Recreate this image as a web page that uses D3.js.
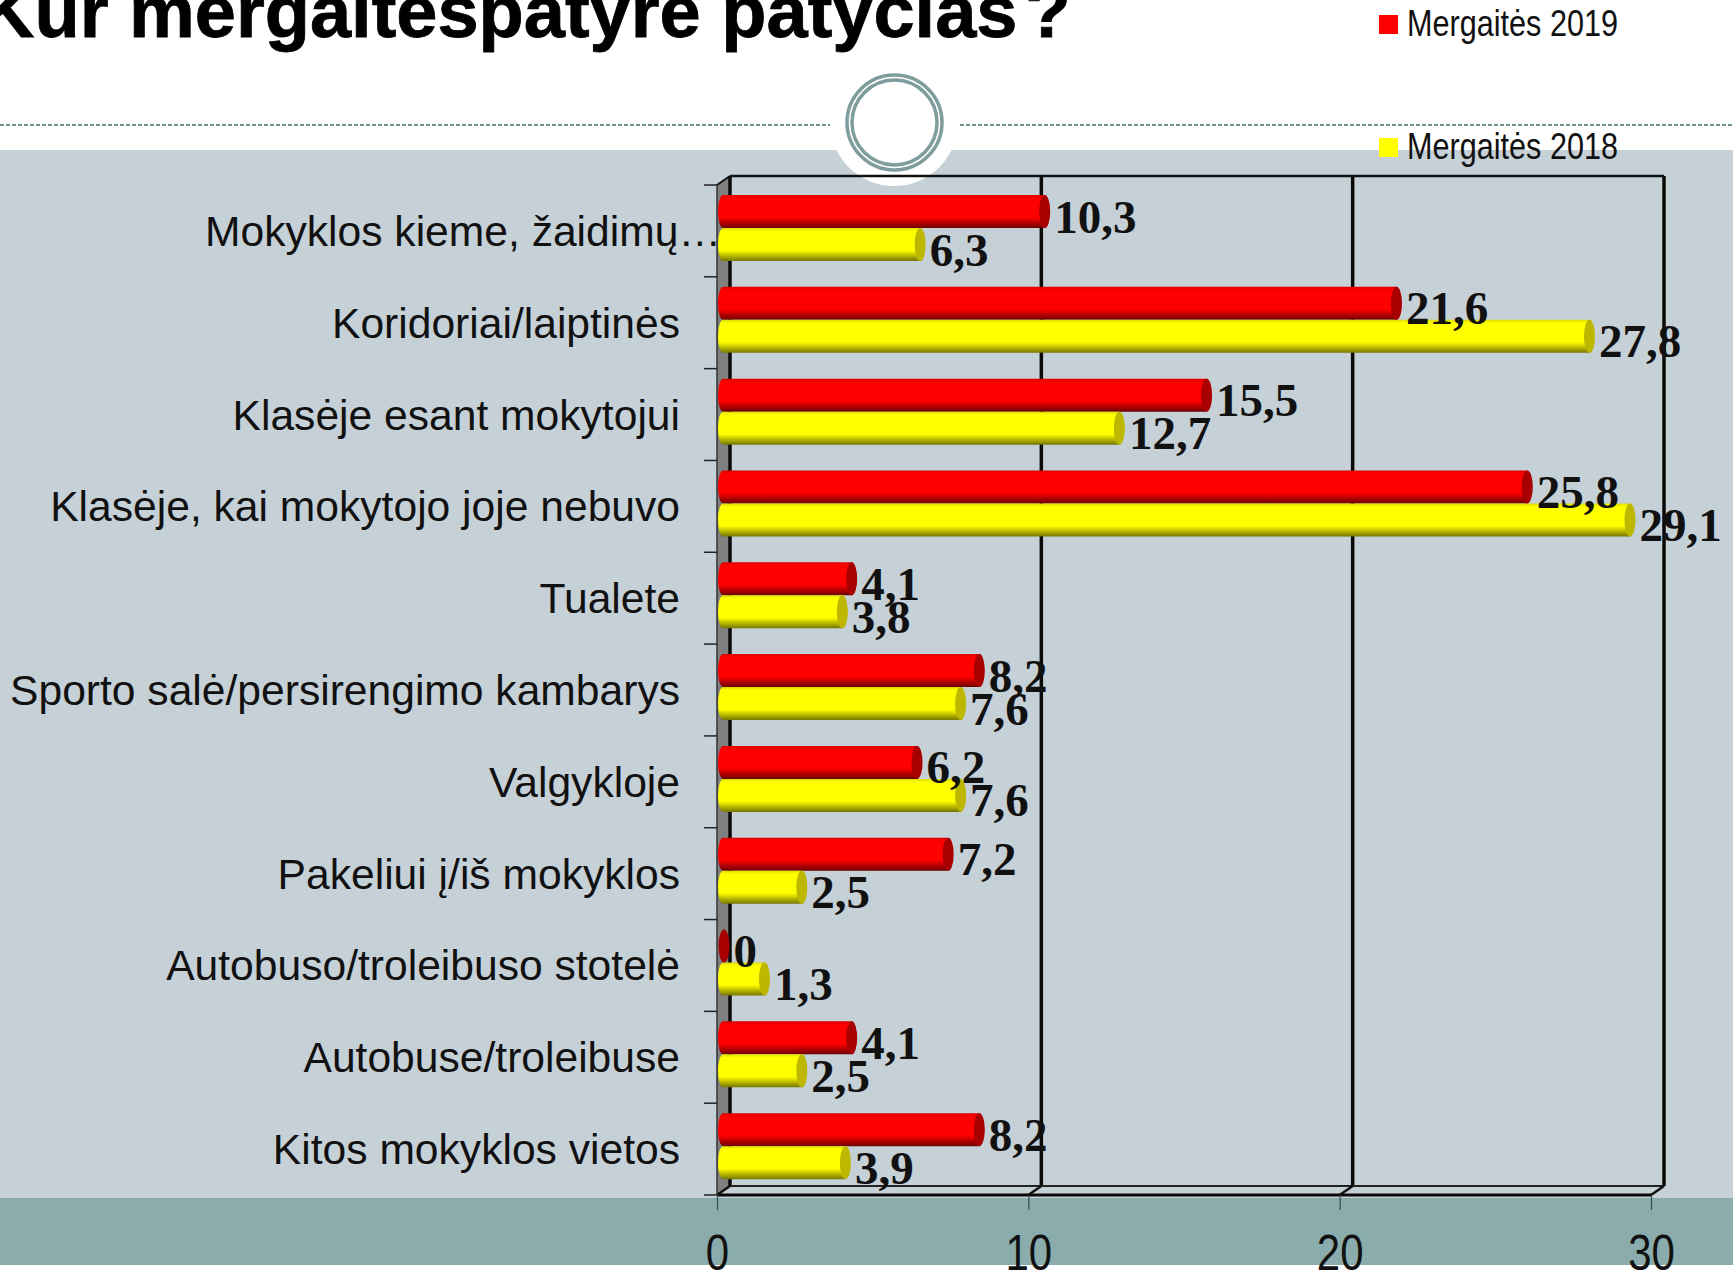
<!DOCTYPE html>
<html>
<head>
<meta charset="utf-8">
<title>Kur mergaitės patyrė patyčias</title>
<script src="https://cdn.jsdelivr.net/npm/d3@7"></script>
<style>
    html, body { margin: 0; padding: 0; background: #fff; overflow: hidden; }
    svg { display: block; }
    .sans { font-family: "Liberation Sans", Arial, sans-serif; }
    .serif { font-family: "Liberation Serif", "Times New Roman", serif; font-weight: bold; }
</style>
</head>
<body>
<script>
const categories = [
    "Mokyklos kieme, žaidimų…",
    "Koridoriai/laiptinės",
    "Klasėje esant mokytojui",
    "Klasėje, kai mokytojo joje nebuvo",
    "Tualete",
    "Sporto salė/persirengimo kambarys",
    "Valgykloje",
    "Pakeliui į/iš mokyklos",
    "Autobuso/troleibuso stotelė",
    "Autobuse/troleibuse",
    "Kitos mokyklos vietos"
];
const girls2019 = [10.3, 21.6, 15.5, 25.8, 4.1, 8.2, 6.2, 7.2, 0, 4.1, 8.2];
const girls2018 = [6.3, 27.8, 12.7, 29.1, 3.8, 7.6, 7.6, 2.5, 1.3, 2.5, 3.9];
const seriesNames = ["Mergaitės 2019", "Mergaitės 2018"];
const xTicks = [0, 10, 20, 30];
const titleText = "Kur mergaitėspatyrė patyčias";

let wSvg = 1733;
let hSvg = 1274;

// front plane of the fake 3d box, back wall is shifted by depth
let depthX = 13;
let depthY = 9;
let yTop = 185;
let yBottom = 1195;

let svg = d3.select("body").append("svg").attr("width", wSvg).attr("height", hSvg);

let x = d3.scaleLinear().domain([0, 30]).range([717, 1651]);
let y = d3.scaleBand().domain(categories).range([yTop, yBottom]);
let ySeries = d3.scaleBand().domain(seriesNames).range([10, 76]);

let colors = {
    "Mergaitės 2019": { main: "#ff0000", dark: "#6e0000", cap: "#a80000", id: "gradRed" },
    "Mergaitės 2018": { main: "#ffff00", dark: "#757500", cap: "#bdb700", id: "gradYellow" }
};

let defs = svg.append("defs");
seriesNames.forEach((s) => {
    let c = colors[s];
    let grad = defs.append("linearGradient")
        .attr("id", c.id)
        .attr("x1", 0).attr("x2", 0).attr("y1", 0).attr("y2", 1);
    grad.append("stop").attr("offset", "0%").attr("stop-color", d3.interpolateRgb(c.main, c.dark)(0.25));
    grad.append("stop").attr("offset", "10%").attr("stop-color", c.main);
    grad.append("stop").attr("offset", "68%").attr("stop-color", c.main);
    grad.append("stop").attr("offset", "100%").attr("stop-color", c.dark);
});

// slide background
svg.append("rect").attr("x", 0).attr("y", 150).attr("width", wSvg).attr("height", 1048).attr("fill", "#c5d0d7");
svg.append("rect").attr("x", 0).attr("y", 1198).attr("width", wSvg).attr("height", 67).attr("fill", "#8aacad");

svg.append("line")
    .attr("x1", 0).attr("x2", wSvg).attr("y1", 125).attr("y2", 125)
    .attr("stroke", "#6f9090").attr("stroke-width", 2).attr("stroke-dasharray", "4 2");
svg.append("circle").attr("cx", 894).attr("cy", 122).attr("r", 64).attr("fill", "#fff");
svg.append("circle").attr("cx", 894.5).attr("cy", 122.5).attr("r", 47.5)
    .attr("fill", "none").attr("stroke", "#7f9d9d").attr("stroke-width", 3.5);
svg.append("circle").attr("cx", 894.5).attr("cy", 122.5).attr("r", 42.5)
    .attr("fill", "none").attr("stroke", "#7f9d9d").attr("stroke-width", 3.5);

// title runs off the top of the page
let title = svg.append("text")
    .attr("class", "sans")
    .attr("x", -19)
    .attr("y", 37)
    .attr("font-size", 74)
    .attr("font-weight", "bold")
    .attr("stroke", "#000")
    .attr("stroke-width", 0.8)
    .attr("fill", "#000")
    .text(titleText);
title.append("tspan").attr("dx", 8).text("?");

// category labels
svg.append("g")
    .selectAll("text")
    .data(categories)
    .enter()
    .append("text")
    .attr("class", "sans")
    .attr("x", (d, i) => (i === 0 ? 721 : 680))
    .attr("y", (d) => y(d) + y.bandwidth() / 2 + 15)
    .attr("text-anchor", "end")
    .attr("font-size", 42.6)
    .attr("fill", "#111")
    .text((d) => d);

// left wall
svg.append("polygon")
    .attr("points", [
        [x(0), yTop], [x(0) + depthX, yTop - depthY],
        [x(0) + depthX, yBottom - depthY], [x(0), yBottom]
    ].join(" "))
    .attr("fill", "#808080");

// back wall lines
svg.append("line")
    .attr("x1", x(0) + depthX).attr("x2", x(30) + depthX)
    .attr("y1", yTop - depthY).attr("y2", yTop - depthY)
    .attr("stroke", "#111").attr("stroke-width", 2.5);
svg.append("g")
    .selectAll("line")
    .data(xTicks)
    .enter()
    .append("line")
    .attr("x1", (d) => x(d) + depthX).attr("x2", (d) => x(d) + depthX)
    .attr("y1", yTop - depthY).attr("y2", yBottom - depthY)
    .attr("stroke", "#0a0a0a").attr("stroke-width", 3.5);
svg.append("line")
    .attr("x1", x(0) + depthX).attr("x2", x(30) + depthX)
    .attr("y1", yBottom - depthY).attr("y2", yBottom - depthY)
    .attr("stroke", "#222").attr("stroke-width", 2);

// floor front edge, diagonals
svg.append("line")
    .attr("x1", x(0)).attr("x2", x(30))
    .attr("y1", yBottom).attr("y2", yBottom)
    .attr("stroke", "#0a0a0a").attr("stroke-width", 3);
svg.append("g")
    .selectAll("line")
    .data(xTicks)
    .enter()
    .append("line")
    .attr("x1", (d) => x(d)).attr("x2", (d) => x(d) + depthX)
    .attr("y1", yBottom).attr("y2", yBottom - depthY)
    .attr("stroke", "#111").attr("stroke-width", 2.5);
svg.append("line")
    .attr("x1", x(0)).attr("x2", x(0) + depthX)
    .attr("y1", yTop).attr("y2", yTop - depthY)
    .attr("stroke", "#111").attr("stroke-width", 2);
svg.append("line")
    .attr("x1", x(0)).attr("x2", x(0))
    .attr("y1", yTop).attr("y2", yBottom)
    .attr("stroke", "#333").attr("stroke-width", 1.5);

// category ticks
let bandEdges = categories.map((d) => y(d)).concat([yBottom]);
svg.append("g")
    .selectAll("line")
    .data(bandEdges)
    .enter()
    .append("line")
    .attr("x1", x(0) - 13).attr("x2", x(0))
    .attr("y1", (d) => d).attr("y2", (d) => d)
    .attr("stroke", "#222").attr("stroke-width", 1.5);

// x axis
let xAxis = svg.append("g")
    .attr("transform", `translate(0,${yBottom})`)
    .call(d3.axisBottom(x).tickValues(xTicks).tickSize(15).tickSizeOuter(0));
xAxis.select(".domain").remove();
xAxis.selectAll("line").attr("stroke", "#3a4a4a").attr("stroke-width", 1.2);
xAxis.selectAll("text")
    .attr("class", "sans")
    .attr("y", 0)
    .attr("dy", 0)
    .attr("transform", "translate(0,75) scale(0.84,1)")
    .style("font-size", "50px")
    .attr("font-family", null)
    .attr("fill", "#111");

// cylinders
let rows = [];
categories.forEach((c, i) => {
    rows.push({ cat: c, series: seriesNames[0], value: girls2019[i] });
    rows.push({ cat: c, series: seriesNames[1], value: girls2018[i] });
});

let gBars = svg.append("g");
gBars.selectAll("rect")
    .data(rows.filter((d) => d.value > 0))
    .enter()
    .append("rect")
    .attr("x", x(0) + 1)
    .attr("y", (d) => y(d.cat) + ySeries(d.series))
    .attr("width", (d) => x(d.value) + 12 - x(0) - 1)
    .attr("height", ySeries.bandwidth())
    .attr("rx", 5)
    .attr("ry", ySeries.bandwidth() / 2)
    .attr("fill", (d) => `url(#${colors[d.series].id})`);

gBars.selectAll("ellipse")
    .data(rows)
    .enter()
    .append("ellipse")
    .attr("cx", (d) => x(d.value) + 7)
    .attr("cy", (d) => y(d.cat) + ySeries(d.series) + ySeries.bandwidth() / 2)
    .attr("rx", 5.5)
    .attr("ry", ySeries.bandwidth() / 2)
    .attr("fill", (d) => colors[d.series].cap);

// value labels on top of everything
svg.append("g")
    .selectAll("text")
    .data(rows)
    .enter()
    .append("text")
    .attr("class", "serif")
    .attr("x", (d) => x(d.value) + 16.5)
    .attr("y", (d) => y(d.cat) + ySeries(d.series) + ySeries.bandwidth() / 2 + 21)
    .attr("font-size", 47)
    .attr("fill", "#111")
    .text((d) => String(d.value).replace(".", ","));

// legend
let legend = svg.append("g")
    .selectAll("g")
    .data(seriesNames)
    .enter()
    .append("g")
    .attr("transform", (d, i) => `translate(1379,${i === 0 ? 15 : 138})`);
legend.append("rect")
    .attr("width", 19)
    .attr("height", 19)
    .attr("fill", (d) => colors[d].main);
legend.append("text")
    .attr("class", "sans")
    .attr("x", 28)
    .attr("y", 21)
    .attr("font-size", 37)
    .attr("fill", "#111")
    .attr("textLength", 211)
    .attr("lengthAdjust", "spacingAndGlyphs")
    .text((d) => d);
</script>
</body>
</html>
